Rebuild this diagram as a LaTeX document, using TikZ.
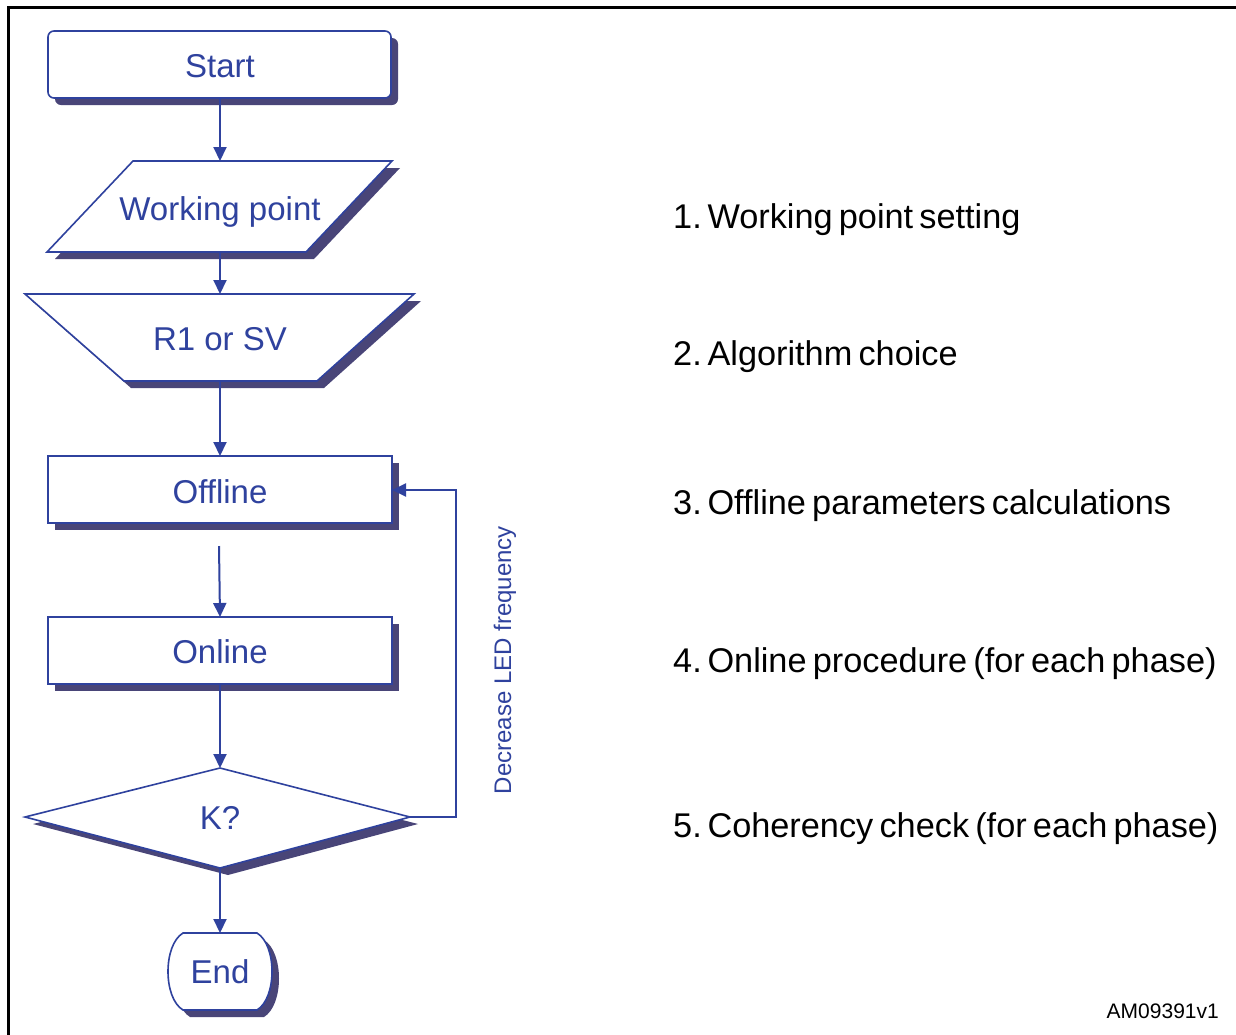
\documentclass[tikz,border=0pt]{standalone}
\usepackage{fontspec}
\setmainfont{Liberation Sans}
\newfontfamily\itemfont[WordSpace=0.65]{Liberation Sans}
\usetikzlibrary{arrows.meta}
\definecolor{flowblue}{RGB}{47,66,158}
\definecolor{flowshade}{RGB}{73,69,120}
\tikzset{
  box/.style={draw=flowblue, line width=1.6pt, fill=white, line join=miter},
  shadowfill/.style={fill=flowshade, draw=none},
  flow/.style={draw=flowblue, line width=2pt, -{Triangle[length=14pt,width=13pt]}},
  lbl/.style={text=flowblue, font=\fontsize{33}{40}\selectfont, anchor=base, inner sep=0pt},
  item/.style={text=black, font=\itemfont\fontsize{34.3}{40}\selectfont, anchor=base west, inner sep=0pt},
}
\begin{document}
\begin{tikzpicture}[x=1pt,y=-1pt]
\useasboundingbox (0,0) rectangle (1236,1034);
\fill[white] (0,0) rectangle (1236,1034);
% frame
\draw[line width=3pt] (8,1040) -- (8,7) -- (1240,7);

% Start terminal
\fill[shadowfill, rounded corners=6pt] (55,38) rectangle (398,105);
\draw[box, rounded corners=6pt] (48,31) rectangle (391,98);
\node[lbl] (start) at (220,77) {Start};
\coordinate (start-s) at (220,98);

% Working point (input)
\fill[shadowfill] (141,168) -- (400,168) -- (314,259) -- (55,259) -- cycle;
\draw[box] (133,161) -- (392,161) -- (306,252) -- (47,252) -- cycle;
\node[lbl] (wp) at (220,220) {Working point};
\coordinate (wp-n) at (220,161);
\coordinate (wp-s) at (220,252);

% R1 or SV (manual operation)
\fill[shadowfill] (32,301) -- (421,301) -- (324,388) -- (131,388) -- cycle;
\draw[box] (25,294) -- (414,294) -- (317,381) -- (124,381) -- cycle;
\node[lbl] (alg) at (220,350) {R1 or SV};
\coordinate (alg-n) at (220,294);
\coordinate (alg-s) at (220,381);

% Offline
\fill[shadowfill] (55,463) rectangle (399,530);
\draw[box] (48,456) rectangle (392,523);
\node[lbl] (off) at (220,503) {Offline};
\coordinate (off-n) at (220,456);
\coordinate (off-e) at (392,490);
\coordinate (off-out) at (219,546);

% Online
\fill[shadowfill] (55,624) rectangle (399,691);
\draw[box] (48,617) rectangle (392,684);
\node[lbl] (on) at (220,663) {Online};
\coordinate (on-n) at (220,617);
\coordinate (on-s) at (220,684);

% K? decision
\fill[shadowfill] (228,775) -- (418,824) -- (228,875) -- (33,824) -- cycle;
\draw[box] (220,768) -- (410,817) -- (220,868) -- (25,817) -- cycle;
\node[lbl] (k) at (220,829) {K?};
\coordinate (k-n) at (220,768);
\coordinate (k-e) at (410,817);
\coordinate (k-s) at (220,868);
\coordinate (loop-a) at (456,817);
\coordinate (loop-b) at (456,490);

% End terminal
\fill[shadowfill] (190,940) -- (264,940)
  .. controls (284,952) and (284,1005) .. (264,1017) -- (190,1017)
  .. controls (170,1005) and (170,952) .. (190,940) -- cycle;
\draw[box] (183,933) -- (257,933)
  .. controls (277,945) and (277,998) .. (257,1010) -- (183,1010)
  .. controls (163,998) and (163,945) .. (183,933) -- cycle;
\node[lbl] (end) at (220,983) {End};
\coordinate (end-n) at (220,933);

% connectors
\draw[flow] (start-s) -- (wp-n);
\draw[flow] (wp-s) -- (alg-n);
\draw[flow] (alg-s) -- (off-n);
\draw[flow] (off-out) -- (on-n);
\draw[flow] (on-s) -- (k-n);
\draw[flow] (k-s) -- (end-n);
\draw[flow] (k-e) -- (loop-a) -- (loop-b) -- (off-e);

\node[text=flowblue, font=\fontsize{24}{28}\selectfont, rotate=90, inner sep=0pt] (dec) at (505,660) {Decrease LED frequency};

% step list
\node[item] (s1) at (673,228) {1.\,Working point setting};
\node[item] (s2) at (673,365) {2.\,Algorithm choice};
\node[item] (s3) at (673,514) {3.\,Offline parameters calculations};
\node[item] (s4) at (673,672) {4.\,Online procedure (for each phase)};
\node[item] (s5) at (673,837) {5.\,Coherency check (for each phase)};

\node[text=black, font=\fontsize{21}{25}\selectfont, anchor=base east, inner sep=0pt] (ref) at (1219,1018) {AM09391v1};
\end{tikzpicture}
\end{document}
